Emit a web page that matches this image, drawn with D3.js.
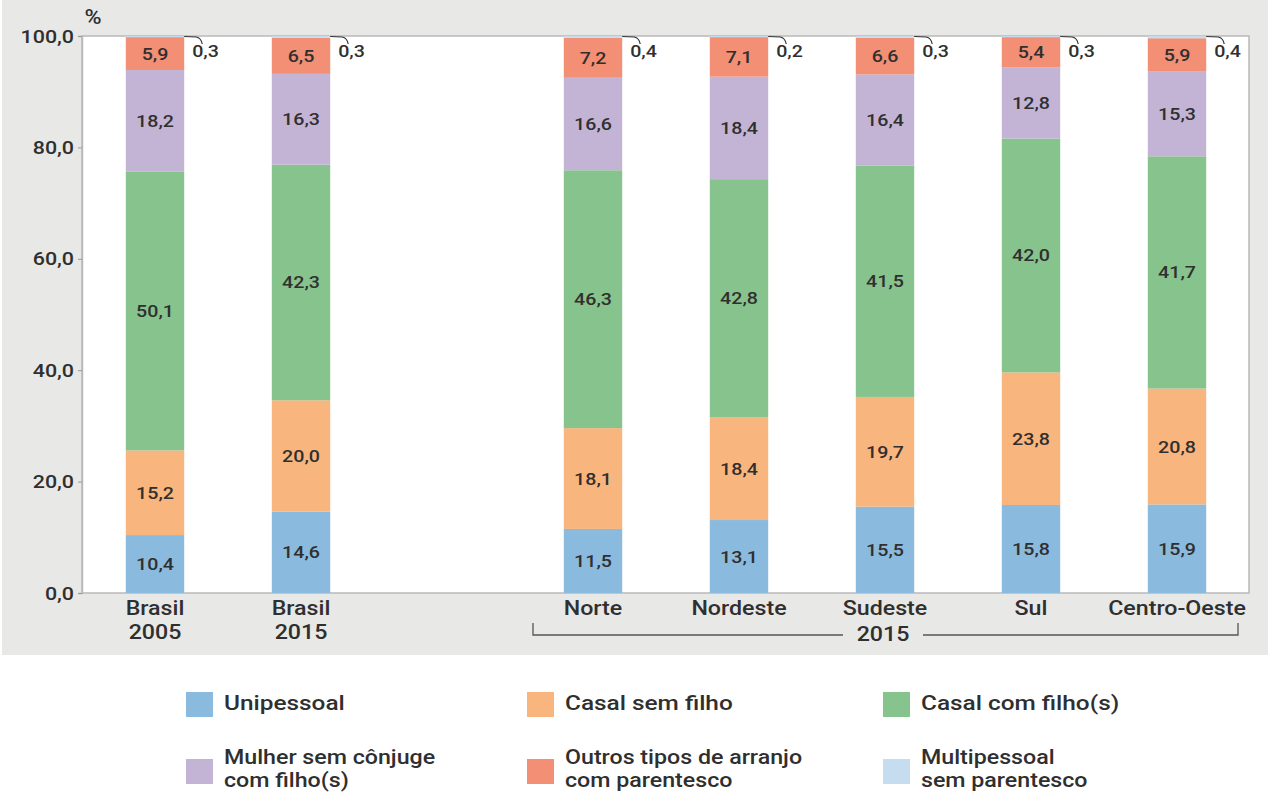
<!DOCTYPE html>
<html>
<head>
<meta charset="utf-8">
<script src="https://cdn.jsdelivr.net/npm/d3@7"></script>
<style>
  body { margin: 0; background: #fff; }
  text { font-family: Roboto, "Liberation Sans", sans-serif; font-weight: 500; fill: #2f2f2f; }
</style>
</head>
<body>
<div id="chart"></div>
<script>
// categories (slot "gap" is an empty space between Brasil and the regions)
var categories = ["Brasil 2005", "Brasil 2015", "gap", "Norte", "Nordeste", "Sudeste", "Sul", "Centro-Oeste"];
var bars = ["Brasil 2005", "Brasil 2015", "Norte", "Nordeste", "Sudeste", "Sul", "Centro-Oeste"];
var labelLines = [["Brasil", "2005"], ["Brasil", "2015"], ["Norte"], ["Nordeste"], ["Sudeste"], ["Sul"], ["Centro-Oeste"]];

var seriesNames = ["Unipessoal", "Casal sem filho", "Casal com filho(s)",
                   "Mulher sem cônjuge com filho(s)", "Outros tipos de arranjo com parentesco",
                   "Multipessoal sem parentesco"];
var unipessoal   = [10.4, 14.6, 11.5, 13.1, 15.5, 15.8, 15.9];
var casalSem     = [15.2, 20.0, 18.1, 18.4, 19.7, 23.8, 20.8];
var casalCom     = [50.1, 42.3, 46.3, 42.8, 41.5, 42.0, 41.7];
var mulher       = [18.2, 16.3, 16.6, 18.4, 16.4, 12.8, 15.3];
var outros       = [5.9, 6.5, 7.2, 7.1, 6.6, 5.4, 5.9];
var multipessoal = [0.3, 0.3, 0.4, 0.2, 0.3, 0.3, 0.4];
var yTicks = [0, 20, 40, 60, 80, 100];

var colors = ["#8abadd", "#f8b57d", "#87c38c", "#c3b4d6", "#f28f74", "#c6dcef"];
var legendLines = [["Unipessoal"], ["Casal sem filho"], ["Casal com filho(s)"],
                   ["Mulher sem cônjuge", "com filho(s)"], ["Outros tipos de arranjo", "com parentesco"],
                   ["Multipessoal", "sem parentesco"]];

var allSeries = [unipessoal, casalSem, casalCom, mulher, outros, multipessoal];
var SX = 1.19; // text in the original is horizontally stretched
var fmt = d => d.toFixed(1).replace(".", ",");

var W = 1268, H = 792;
var svg = d3.select("#chart").append("svg").attr("width", W).attr("height", H);

function label(g, x, y, txt, size, anchor) {
  return g.append("text")
    .attr("transform", "translate(" + x + "," + y + ") scale(" + SX + ",1)")
    .attr("text-anchor", anchor || "middle")
    .style("font-size", size + "px")
    .text(txt);
}

// gray panel
svg.append("rect").attr("x", 2).attr("y", 0).attr("width", W - 2).attr("height", 655).attr("fill", "#e8e8e7");

var pLeft = 82, pRight = 1249, pTop = 36, pBottom = 593;
svg.append("rect").attr("x", pLeft).attr("y", pTop).attr("width", pRight - pLeft).attr("height", pBottom - pTop)
  .attr("fill", "#fff").attr("stroke", "#b9b9b9").attr("stroke-width", 1.5);

var x = d3.scaleBand().domain(categories).range([pLeft, 1250]).paddingInner(0.6).paddingOuter(0.3);
var y = d3.scaleLinear().domain([0, 100]).range([pBottom, pTop]);

// y axis
var yAxis = svg.append("g").attr("transform", "translate(" + pLeft + ",0)")
  .call(d3.axisLeft(y).tickValues(yTicks).tickFormat(fmt).tickSize(4).tickPadding(5));
yAxis.select(".domain").attr("stroke", "#b9b9b9").attr("stroke-width", 1.5);
yAxis.selectAll(".tick line").attr("stroke", "#999");
yAxis.selectAll(".tick text")
  .attr("x", null).attr("dy", null)
  .attr("transform", "translate(-8,6) scale(" + SX + ",1)")
  .style("font-size", "18px").attr("fill", "#2f2f2f")
  .style("font-family", "Roboto, sans-serif").style("font-weight", 500);

label(svg, 93, 24, "%", 19.5);

// stacked data
var rows = bars.map(function(b, i) {
  var r = { cat: b };
  allSeries.forEach(function(s, k) { r["s" + k] = s[i]; });
  return r;
});
var stack = d3.stack().keys(allSeries.map((s, k) => "s" + k))(rows);

var gBars = svg.append("g");
stack.forEach(function(layer, k) {
  gBars.selectAll(".l" + k).data(layer).enter().append("rect")
    .attr("x", d => x(d.data.cat))
    .attr("width", x.bandwidth())
    .attr("y", d => y(Math.min(d[1], 100)))
    .attr("height", d => y(d[0]) - y(Math.min(d[1], 100)))
    .attr("fill", colors[k]);
});

// values inside segments (all except multipessoal)
stack.forEach(function(layer, k) {
  if (k === 5) return;
  layer.forEach(function(d, i) {
    var cx = x(d.data.cat) + x.bandwidth() / 2;
    var cy = (y(d[0]) + y(Math.min(d[1], 100))) / 2;
    label(svg, cx, cy + 6, fmt(allSeries[k][i]), 16.5);
  });
});

// multipessoal callouts
stack[5].forEach(function(d, i) {
  var bx = x(d.data.cat) + x.bandwidth();
  var ty = y(Math.min(d[1], 100));
  svg.append("path")
    .attr("d", "M" + bx + "," + (ty + 0.5) + " L" + (bx + 12) + "," + (ty + 1) +
               " Q" + (bx + 17) + "," + (ty + 2) + " " + (bx + 18) + "," + (ty + 8))
    .attr("fill", "none").attr("stroke", "#333").attr("stroke-width", 1.2);
  label(svg, bx + 8, y(100) + 21, fmt(multipessoal[i]), 16.5, "start");
});

// x labels
bars.forEach(function(b, i) {
  var cx = x(b) + x.bandwidth() / 2;
  labelLines[i].forEach(function(t, j) {
    label(svg, cx, 615 + j * 24, t, 19.5);
  });
});

// 2015 bracket
var bl = 533, br = 1238, by = 635, bt = 623;
var mid = (x("Sudeste") + x.bandwidth() / 2);
svg.append("path")
  .attr("d", "M" + bl + "," + bt + " L" + bl + "," + by + " L" + (mid - 42) + "," + by +
             " M" + (mid + 38) + "," + by + " L" + br + "," + by + " L" + br + "," + bt)
  .attr("fill", "none").attr("stroke", "#555").attr("stroke-width", 1.3);
label(svg, mid - 2, 641, "2015", 19.5);

// legend
var legX = [186, 527, 883];
var legY = [692, 759];
legendLines.forEach(function(lines, k) {
  var lx = legX[k % 3], ly = legY[Math.floor(k / 3)];
  svg.append("rect").attr("x", lx).attr("y", ly).attr("width", 27).attr("height", 25).attr("fill", colors[k]);
  lines.forEach(function(t, j) {
    var base = lines.length === 1 ? ly + 18 : ly + 5 + j * 23;
    label(svg, lx + 38, base, t, lines.length === 1 ? 20.5 : 19.5, "start");
  });
});
</script>
</body>
</html>
